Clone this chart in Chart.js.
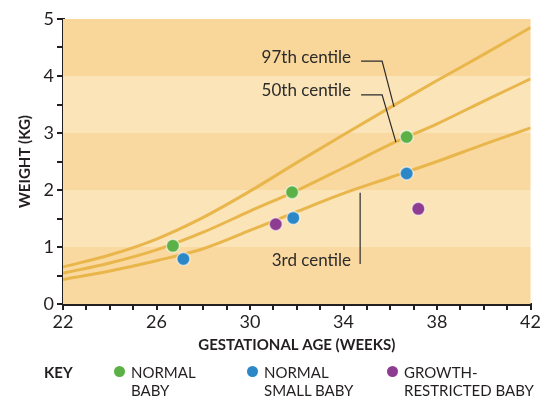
<!DOCTYPE html>
<html>
<head>
<meta charset="utf-8">
<script src="https://cdn.jsdelivr.net/npm/chart.js@4"></script>
<style>
  html, body { margin: 0; padding: 0; background: #fff; }
  #wrap { position: relative; width: 542px; height: 400px; }
  #key { position: absolute; left: 0; top: 362px; width: 542px; height: 38px;
         font-family: "Lato", "Open Sans", sans-serif; font-size: 15px; color: #231f20; }
  #key .lbl { position: absolute; top: 1px; line-height: 18px; font-weight: bold; }
  #key .item { position: absolute; top: 1px; line-height: 18px; }
  #key .dot { position: absolute; top: 4px; width: 11px; height: 11px; border-radius: 50%; }
</style>
</head>
<body>
<div id="wrap">
  <canvas id="growthChart" width="542" height="400"></canvas>
  <div id="key"></div>
</div>
<script>
// centile curves (kg) every 2 weeks
var weeks = [22, 24, 26, 28, 30, 32, 34, 36, 38, 40, 42];
var centile97 = [0.65, 0.86, 1.14, 1.52, 1.98, 2.48, 2.97, 3.45, 3.92, 4.38, 4.85];
var centile50 = [0.54, 0.72, 0.95, 1.26, 1.63, 1.99, 2.39, 2.80, 3.16, 3.56, 3.95];
var centile3  = [0.43, 0.58, 0.76, 0.97, 1.29, 1.62, 1.94, 2.22, 2.50, 2.80, 3.09];

// babies: gestational age (weeks), weight (kg)
var normalWeeks = [26.7, 31.8, 36.7];
var normalKg = [1.02, 1.96, 2.93];
var smallWeeks = [27.15, 31.85, 36.7];
var smallKg = [0.79, 1.51, 2.29];
var restrictedWeeks = [31.1, 37.2];
var restrictedKg = [1.40, 1.67];

var keyLabels = [["NORMAL", "BABY"], ["NORMAL", "SMALL BABY"], ["GROWTH-", "RESTRICTED BABY"]];
var keyColors = ["#5bb046", "#2c87c6", "#8e3c92"];

// labels placed on the plot (data units)
var notes = [
    { text: "97th centile", x: 34.32, y: 4.33, line: [[34.75, 4.26], [35.65, 4.26], [36.16, 3.46]] },
    { text: "50th centile", x: 34.32, y: 3.75, line: [[34.75, 3.67], [35.65, 3.67], [36.24, 2.84]] },
    { text: "3rd centile", x: 34.32, y: 0.77, line: [[34.71, 1.95], [34.71, 0.70]] }
];

var bands = [
    { from: 0, to: 1, color: "#f9d9a0" },
    { from: 1, to: 2, color: "#fbe4b8" },
    { from: 2, to: 3, color: "#f9d9a0" },
    { from: 3, to: 4, color: "#fbe4b8" },
    { from: 4, to: 5, color: "#f9d79a" }
];

function pts(xs, ys) {
    return xs.map(function(x, i) { return { x: x, y: ys[i] }; });
}

function curve(label, ys) {
    return {
        type: 'line',
        label: label,
        data: pts(weeks, ys),
        borderColor: '#e9b64c',
        borderWidth: 3,
        pointRadius: 0,
        cubicInterpolationMode: 'monotone',
        fill: false,
        order: 2
    };
}

function dots(label, xs, ys, color) {
    return {
        type: 'scatter',
        label: label,
        data: pts(xs, ys),
        backgroundColor: color,
        borderColor: 'rgba(255,255,255,0.55)',
        borderWidth: 1.5,
        pointRadius: 6.5,
        order: 1
    };
}

var bgPlugin = {
    id: 'bands',
    beforeDatasetsDraw: function(chart) {
        var ctx = chart.ctx, a = chart.chartArea, y = chart.scales.y;
        ctx.save();
        bands.forEach(function(b) {
            var top = y.getPixelForValue(b.to), bot = y.getPixelForValue(b.from);
            ctx.fillStyle = b.color;
            ctx.fillRect(a.left, top, a.right - a.left, bot - top);
        });
        ctx.restore();
    }
};

var notePlugin = {
    id: 'notes',
    afterDatasetsDraw: function(chart) {
        var ctx = chart.ctx, sx = chart.scales.x, sy = chart.scales.y;
        ctx.save();
        ctx.font = '17px "Lato", "Open Sans", sans-serif';
        ctx.fillStyle = '#2b2b2b';
        ctx.textAlign = 'right';
        ctx.textBaseline = 'middle';
        ctx.strokeStyle = '#2b2b2b';
        ctx.lineWidth = 1.2;
        notes.forEach(function(n) {
            ctx.fillText(n.text, sx.getPixelForValue(n.x), sy.getPixelForValue(n.y));
            ctx.beginPath();
            n.line.forEach(function(p, i) {
                var px = sx.getPixelForValue(p[0]), py = sy.getPixelForValue(p[1]);
                if (i === 0) ctx.moveTo(px, py); else ctx.lineTo(px, py);
            });
            ctx.stroke();
        });
        ctx.restore();
    }
};

var ctx = document.getElementById('growthChart').getContext('2d');
var myChart = new Chart(ctx, {
    data: {
        datasets: [
            curve('97th centile', centile97),
            curve('50th centile', centile50),
            curve('3rd centile', centile3),
            dots('Normal baby', normalWeeks, normalKg, keyColors[0]),
            dots('Normal small baby', smallWeeks, smallKg, keyColors[1]),
            dots('Growth-restricted baby', restrictedWeeks, restrictedKg, keyColors[2])
        ]
    },
    options: {
        responsive: false,
        animation: false,
        layout: { padding: { top: 19, right: 11, left: 0, bottom: 44 } },
        plugins: {
            legend: { display: false },
            tooltip: { enabled: false }
        },
        scales: {
            x: {
                type: 'linear',
                min: 22,
                max: 42,
                afterFit: function(axis) { axis.height = 52; },
                border: { color: '#231f20', width: 3 },
                grid: { drawOnChartArea: false, drawTicks: true, tickLength: 6, color: '#231f20', lineWidth: 2 },
                ticks: {
                    stepSize: 1,
                    padding: 1,
                    maxRotation: 0,
                    autoSkip: false,
                    color: '#231f20',
                    font: { family: '"Lato", "Open Sans", sans-serif', size: 18 },
                    callback: function(v) { return (v - 22) % 4 === 0 ? v : ''; }
                },
                title: {
                    display: true,
                    text: 'GESTATIONAL AGE (WEEKS)',
                    color: '#231f20',
                    font: { family: '"Lato", "Open Sans", sans-serif', size: 15, weight: 'bold' },
                    padding: { top: 0, bottom: 2 }
                }
            },
            y: {
                min: 0,
                max: 5,
                afterFit: function(axis) { axis.width = 63; },
                border: { color: '#231f20', width: 3 },
                grid: { drawOnChartArea: false, drawTicks: true, tickLength: 6, color: '#231f20', lineWidth: 2 },
                ticks: {
                    stepSize: 0.5,
                    padding: 3,
                    color: '#231f20',
                    font: { family: '"Lato", "Open Sans", sans-serif', size: 18 },
                    callback: function(v) { return Number.isInteger(v) ? v : ''; }
                },
                title: {
                    display: true,
                    text: 'WEIGHT (KG)',
                    color: '#231f20',
                    font: { family: '"Lato", "Open Sans", sans-serif', size: 15, weight: 'bold' },
                    padding: { top: 16, bottom: 0 }
                }
            }
        }
    },
    plugins: [bgPlugin, notePlugin]
});

// key under the chart
var key = document.getElementById('key');
var head = document.createElement('div');
head.className = 'lbl';
head.style.left = '44px';
head.textContent = 'KEY';
key.appendChild(head);
var dotX = [114, 247, 387];
keyLabels.forEach(function(lines, i) {
    var d = document.createElement('div');
    d.className = 'dot';
    d.style.left = dotX[i] + 'px';
    d.style.background = keyColors[i];
    key.appendChild(d);
    var t = document.createElement('div');
    t.className = 'item';
    t.style.left = (dotX[i] + 17) + 'px';
    t.innerHTML = lines.join('<br>');
    key.appendChild(t);
});
</script>
</body>
</html>
